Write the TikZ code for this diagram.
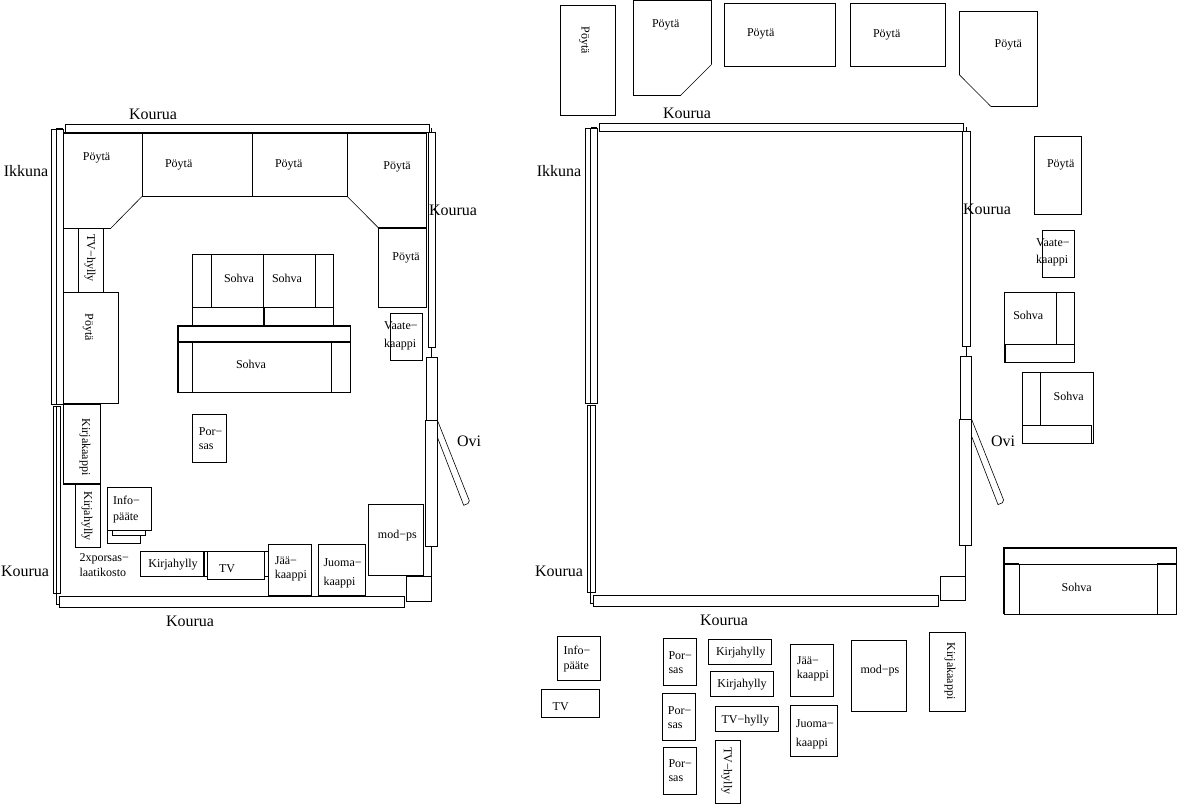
\documentclass[tikz,border=0pt]{standalone}
\usepackage{fontspec}
\setmainfont{Liberation Serif}
\tikzset{x=1pt,y=-1pt}
\tikzstyle{wall} = [line width=0.9pt, draw=black, line join=miter]
\tikzstyle{thickwall} = [line width=2pt, draw=black]
\tikzstyle{small} = [inner sep=0pt, font=\fontsize{12}{14}\selectfont, align=center]
\tikzstyle{poyta} = [small, yshift=-2pt]
\tikzstyle{smallleft} = [inner sep=0pt, anchor=west, font=\fontsize{12}{14}\selectfont, align=left]
\tikzstyle{big} = [inner sep=0pt, font=\fontsize{16}{18}\selectfont]
\newcommand{\roomshell}{%
\draw [wall] (51,129) rectangle (56.3,404);
\draw [wall] (56.3,129) rectangle (63,404);
\draw [wall] (53.3,406.6) rectangle (60.7,593);
\draw [wall] (56.3,406.6) -- (56.3,604) -- (59.3,604);
\draw [thickwall] (56.3,128.7) -- (63,128.7);
\draw [wall] (65,124.5) rectangle (429.5,132.5);
\draw [wall] (431.7,128) -- (431.7,132);
\draw [wall] (428.3,132) rectangle (435.7,347);
\draw [wall] (431.7,347) -- (431.7,357);
\draw [wall] (426,357) rectangle (437.3,420);
\draw [wall] (425.3,420) rectangle (437.3,546);
\draw [wall] (431.3,546) -- (431.3,601.3);
\draw [wall] (406.3,576.7) rectangle (431.3,601.3);
\draw [wall] (59.3,596.3) rectangle (404.3,607.3);
\draw [line width=0.6pt] (437.3,420) -- (469.3,500.7) -- (468,503.5) -- (463.7,505.3) -- (437.3,437);
}
\begin{document}
\begin{tikzpicture}
\useasboundingbox (0,0) rectangle (1177,804);
\roomshell
\begin{scope}[shift={(534.3,-0.7)}]
\roomshell
\end{scope}
\draw [wall] (63,133) -- (63,403);
\draw [thickwall] (63,133) -- (427,133);
\draw [wall] (63,133) -- (142,133) -- (142,196.5);
\draw [line width=0.6pt] (142,196.5) -- (111,228);
\draw [wall] (111,228) -- (63,228);
\draw [wall] (142,196.5) -- (347.3,196.5) -- (347.3,133);
\draw [wall] (252.3,133) -- (252.3,196.5);
\draw [line width=0.6pt] (347.3,196.5) -- (378.3,227.7);
\draw [wall] (426.7,133) -- (426.7,307.3) -- (378.3,307.3) -- (378.3,228);
\draw [thickwall] (378.3,228) -- (426.7,228);
\draw [wall] (390.3,313.3) rectangle (422.7,360.3);
\draw [wall] (78.3,228.7) rectangle (103.3,292.3);
\draw [wall] (63.3,292.3) rectangle (118.3,403.5);
\draw [wall] (63.3,404) rectangle (100.3,483.3);
\draw [thickwall] (63.3,404) -- (100.3,404);
\draw [thickwall] (63.3,483.5) -- (100.3,483.5);
\draw [wall] (75.3,484) rectangle (100.3,547);
\draw [wall] (107.3,530.3) -- (107.3,543.3) -- (140.7,543.3) -- (140.7,535.3);
\draw [wall] (112.3,530.3) -- (112.3,535.3) -- (145.7,535.3) -- (145.7,530.3);
\draw [wall] (107.3,487.3) rectangle (151.7,530.3);
\draw [wall] (192.3,414) rectangle (226.7,462.3);
\draw [wall] (140.3,551.3) rectangle (203.3,576.3);
\draw [thickwall] (203.8,551.3) -- (203.8,576.3);
\draw [wall] (203.3,551.3) -- (207.3,551.3);
\draw [wall] (203.3,576.3) -- (207.3,576.3);
\draw [wall] (207.3,551.3) rectangle (264.7,579.3);
\draw [wall] (264.7,551.3) -- (268.3,551.3);
\draw [wall] (264.7,576) -- (268.3,576);
\draw [wall] (268.3,544.3) rectangle (311.7,595.3);
\draw [wall] (318.3,544.3) rectangle (365.7,595.3);
\draw [wall] (368.3,504.3) rectangle (423.3,575.3);
\draw [wall] (192.3,325) -- (192.3,254.3) -- (333.7,254.3) -- (333.7,325);
\draw [wall] (192.3,307.3) -- (333.7,307.3);
\draw [wall] (211.3,254.3) -- (211.3,307.3);
\draw [wall] (263.3,254.3) -- (263.3,307.3);
\draw [wall] (315.7,254.3) -- (315.7,307.3);
\draw [thickwall] (263.5,307.3) -- (263.5,325);
\draw [wall] (350.7,325.7) -- (350.7,392.7) -- (177.7,392.7);
\draw [thickwall] (177.7,392.7) -- (177.7,325.7) -- (350.7,325.7);
\draw [thickwall] (177.7,341.7) -- (350.7,341.7);
\draw [wall] (192.3,341.7) -- (192.3,392.7);
\draw [wall] (331.3,341.7) -- (331.3,392.7);
\draw [wall] (560.3,5.3) rectangle (615.7,115.7);
\draw [wall] (633.3,0.5) -- (711.7,0.5) -- (711.7,64.3);
\draw [line width=0.6pt] (711.7,64.3) -- (680.7,95.3);
\draw [wall] (680.7,95.3) -- (633.3,95.3) -- (633.3,0.5);
\draw [wall] (724.3,3.3) rectangle (835,66.7);
\draw [wall] (850.3,3.3) rectangle (945.7,66.3);
\draw [wall] (959.3,11.3) -- (1037.3,11.3) -- (1037.3,106.3) -- (990.7,106.3);
\draw [line width=0.6pt] (990.7,106.3) -- (959.3,74.7);
\draw [wall] (959.3,74.7) -- (959.3,11.3);
\draw [wall] (1034.3,136.3) rectangle (1081.7,214.7);
\draw [wall] (1042.3,230.3) rectangle (1074.7,277.3);
\draw [wall] (1004.3,292.3) rectangle (1074.7,362.3);
\draw [wall] (1056.7,292.3) -- (1056.7,344.3);
\draw [wall] (1004.3,344.3) -- (1074.7,344.3);
\draw [wall] (1005.3,344.3) -- (1005.3,362.3);
\draw [wall] (1022.3,372.3) rectangle (1093.7,443.3);
\draw [wall] (1040.3,372.3) -- (1040.3,425.3);
\draw [wall] (1022.3,425.3) -- (1091.7,425.3) -- (1091.7,443.3);
\draw [wall] (1176.7,547.7) -- (1176.7,614.3) -- (1004,614.3);
\draw [thickwall] (1004,614.3) -- (1004,547.7) -- (1176.7,547.7);
\draw [wall] (1004,564) -- (1176.7,564);
\draw [thickwall] (1004,564) -- (1019.3,564);
\draw [thickwall] (1157.3,564) -- (1176.7,564);
\draw [wall] (1019.3,564) -- (1019.3,614.3);
\draw [wall] (1157.3,564) -- (1157.3,614.3);
\draw [wall] (851.3,640.3) rectangle (906.7,711.3);
\draw [wall] (929.3,632.3) rectangle (965.7,711.3);
\draw [wall] (557.3,636.3) rectangle (600.7,680.3);
\draw [wall] (541.3,689.3) rectangle (599.7,717.3);
\draw [wall] (663.3,638.3) rectangle (696.7,685.7);
\draw [wall] (662.3,693.3) rectangle (695.7,740.3);
\draw [wall] (663.3,747.3) rectangle (696.7,794.7);
\draw [wall] (708.3,639.3) rectangle (771.7,664.7);
\draw [wall] (710.3,671.3) rectangle (773.7,696.7);
\draw [wall] (715.3,706.3) rectangle (778.7,731.7);
\draw [wall] (715.3,740.3) rectangle (740.7,803.7);
\draw [wall] (790.3,644.3) rectangle (833.7,696.7);
\draw [wall] (790.3,705.3) rectangle (837.7,756.3);
\node (kourua1) [big] at (153,114) {Kourua};
\node (ikkuna1) [big] at (26,171) {Ikkuna};
\node (kourua2) [big] at (453,210) {Kourua};
\node (ovi1) [big] at (469,441) {Ovi};
\node (kourua3) [big] at (25,571) {Kourua};
\node (kourua4) [big] at (190,621) {Kourua};
\node (kourua5) [big] at (687,113) {Kourua};
\node (ikkuna2) [big] at (559,171) {Ikkuna};
\node (kourua6) [big] at (987,209) {Kourua};
\node (ovi2) [big] at (1003,441) {Ovi};
\node (kourua7) [big] at (559,571) {Kourua};
\node (kourua8) [big] at (724,620) {Kourua};
\node (poyta1) [poyta] at (96.5,156) {Pöytä};
\node (poyta2) [poyta] at (178.7,163) {Pöytä};
\node (poyta3) [poyta] at (288.7,163) {Pöytä};
\node (poyta4) [poyta] at (397,165) {Pöytä};
\node (poyta5) [poyta] at (406,256) {Pöytä};
\node (poyta6) [small, rotate=-90] at (88,327) {Pöytä};
\node (tvhylly1) [small, rotate=-90] at (90,258) {TV−hylly};
\node (kaappi1) [small, rotate=-90] at (85,447) {Kirjakaappi};
\node (hylly1) [small, rotate=-90] at (87,516) {Kirjahylly};
\node (hylly2) [small] at (173,565) {Kirjahylly};
\node (tv1) [small] at (227,569) {TV};
\node (sohva1) [small] at (239,278) {Sohva};
\node (sohva2) [small] at (287,278) {Sohva};
\node (sohva3) [small] at (251,364) {Sohva};
\node (modps1) [small] at (397.3,535.7) {mod−ps};
\node (vaate1) [smallleft] at (384,336) {Vaate−\\[4pt]kaappi};
\node (porsas1) [smallleft] at (198.7,439) {Por−\\sas};
\node (info1) [smallleft] at (113,510) {Info−\\[2pt]pääte};
\node (laatikko) [smallleft] at (79.3,565) {2xporsas−\\[1pt]laatikosto};
\node (jaa1) [smallleft] at (274.7,568.5) {Jää−\\kaappi};
\node (juoma1) [smallleft] at (323.3,573) {Juoma−\\[5pt]kaappi};
\node (poyta7) [small, rotate=-90] at (584.3,40.5) {Pöytä};
\node (poyta8) [poyta] at (665.7,23.3) {Pöytä};
\node (poyta9) [poyta] at (760.7,32.3) {Pöytä};
\node (poyta10) [poyta] at (886.7,33.3) {Pöytä};
\node (poyta11) [poyta] at (1008.3,43.3) {Pöytä};
\node (poyta12) [poyta] at (1060.7,163) {Pöytä};
\node (vaate2) [smallleft] at (1036,252) {Vaate−\\[3pt]kaappi};
\node (sohva4) [small] at (1028.3,315.3) {Sohva};
\node (sohva5) [small] at (1068.7,396) {Sohva};
\node (sohva6) [small] at (1076.7,587.3) {Sohva};
\node (modps2) [small] at (880,670.7) {mod−ps};
\node (kaappi2) [small, rotate=-90] at (950,671.3) {Kirjakaappi};
\node (info2) [smallleft] at (563.3,659.5) {Info−\\[1pt]pääte};
\node (tv2) [small] at (560.7,707) {TV};
\node (porsas2) [smallleft] at (668.3,662.5) {Por−\\sas};
\node (porsas3) [smallleft] at (667.7,717.5) {Por−\\sas};
\node (porsas4) [smallleft] at (668.3,770.5) {Por−\\sas};
\node (hylly3) [small] at (740.7,653) {Kirjahylly};
\node (hylly4) [small] at (742,685) {Kirjahylly};
\node (tvhylly2) [small] at (745.3,720.5) {TV−hylly};
\node (tvhylly3) [small, rotate=-90] at (726.7,770.8) {TV−hylly};
\node (jaa2) [smallleft] at (796.7,668.8) {Jää−\\kaappi};
\node (juoma2) [smallleft] at (795.7,734) {Juoma−\\[5pt]kaappi};
\end{tikzpicture}
\end{document}
